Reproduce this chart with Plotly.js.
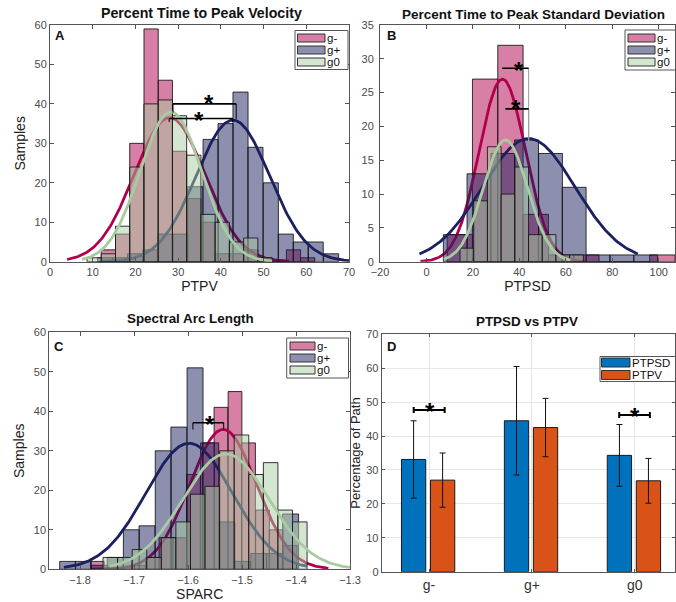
<!DOCTYPE html>
<html>
<head>
<meta charset="utf-8">
<script src="https://cdn.plot.ly/plotly-3.0.1.min.js"></script>
<style>html,body{margin:0;padding:0;background:#fff}#chart{width:676px;height:602px}</style>
</head>
<body>
<div id="chart"></div>
<script>
// ================= DATA =================
const groups = ['g-', 'g+', 'g0'];

// Panel A : PTPV histograms (bin centres / counts per group)
const ptpvCentersGm = [13.67, 17.0, 20.33, 23.67, 27.0, 30.33, 33.67, 37.0, 40.33, 43.67, 47.0, 50.33, 53.67, 57.0, 60.33];
const ptpvCountsGm  = [3, 7, 30, 59, 46, 28, 16, 10, 2, 2, 3, 1, 0, 3, 1];
const ptpvCentersGp = [12.9, 16.4, 19.9, 23.5, 27.0, 30.5, 34.0, 37.6, 41.1, 44.6, 48.1, 51.7, 55.2, 58.7, 62.2, 65.8];
const ptpvCountsGp  = [1, 1, 2, 3, 7, 7, 19, 31, 35, 43, 29, 20, 7, 5, 5, 2];
const ptpvCentersG0 = [10.33, 13.67, 17.0, 20.33, 23.67, 27.0, 30.33, 33.67, 37.0, 40.33, 43.67, 47.0, 50.33];
const ptpvCountsG0  = [1, 2, 9, 24, 40, 41, 37, 27, 12, 10, 5, 6, 1];
const ptpvBinWidth  = [3.33, 3.53, 3.33];
// normal fits (mean, sd, peak height, x-span)
const ptpvFitMean = [28.0, 42.8, 28.3];
const ptpvFitSd   = [8.3, 8.6, 7.2];
const ptpvFitPeak = [36.5, 35.9, 38.0];
const ptpvFitFrom = [4, 12, 7.5];
const ptpvFitTo   = [56, 70, 52];
// significance brackets
const ptpvSigX0 = [28.8, 27.9];
const ptpvSigX1 = [43.6, 42.8];
const ptpvSigY  = [40.0, 36.3];
const ptpvSigEndL = [37.8, 35.4];
const ptpvSigEndR = [36.2, 35.4];
const ptpvStarX = [37.3, 34.8];
const ptpvStarY = [41.6, 37.2];

// Panel B : PTPSD histograms
const ptpsdCentersGm = [14.35, 25.25, 36.15, 47.05, 57.95, 68.85, 79.75, 90.65, 101.55];
const ptpsdCountsGm  = [4, 27, 32, 7, 1, 1, 0, 0, 1];
const ptpsdCentersGp = [12.4, 22.6, 32.9, 43.1, 53.4, 63.6, 73.9, 84.1, 94.4];
const ptpsdCountsGp  = [4, 13, 16, 18, 16, 11, 1, 1, 1];
const ptpsdCentersG0 = [17.4, 23.3, 29.2, 35.1, 41.0, 46.9, 52.8, 58.7, 64.6];
const ptpsdCountsG0  = [2, 9, 17, 10, 14, 4, 4, 1, 1];
const ptpsdBinWidth  = [10.9, 10.25, 5.9];
const ptpsdFitMean = [32.7, 44.0, 34.0];
const ptpsdFitSd   = [10.0, 20.0, 9.5];
const ptpsdFitPeak = [27.0, 18.2, 18.0];
const ptpsdFitFrom = [-2.6, -3, 7.5];
const ptpsdFitTo   = [68, 91, 62];
const ptpsdSigX0 = [32.6, 34.0];
const ptpsdSigX1 = [44.0, 44.0];
const ptpsdSigY  = [28.6, 22.6];
const ptpsdSigEndL = [28.0, 22.0];
const ptpsdSigEndR = [17.6, 17.6];
const ptpsdStarX = [39.7, 38.7];
const ptpsdStarY = [29.1, 23.5];

// Panel C : SPARC histograms
const sparcCentersGm = [-1.768, -1.743, -1.717, -1.692, -1.666, -1.641, -1.615, -1.590, -1.564, -1.539, -1.513, -1.488, -1.462, -1.437, -1.411];
const sparcCountsGm  = [2, 0, 0, 1, 3, 8, 8, 24, 32, 41, 45, 32, 15, 10, 6];
const sparcCentersGp = [-1.823, -1.794, -1.764, -1.735, -1.705, -1.676, -1.646, -1.617, -1.587, -1.558, -1.528, -1.499, -1.469, -1.440, -1.410];
const sparcCountsGp  = [2, 2, 1, 3, 10, 11, 30, 36, 51, 32, 12, 2, 4, 4, 14];
const sparcCentersG0 = [-1.744, -1.717, -1.690, -1.663, -1.636, -1.609, -1.582, -1.555, -1.528, -1.501, -1.474, -1.447, -1.420, -1.393];
const sparcCountsG0  = [3, 3, 5, 3, 8, 12, 19, 21, 30, 34, 24, 27, 15, 12];
const sparcBinWidth  = [0.0255, 0.0295, 0.027];
const sparcFitMean = [-1.535, -1.598, -1.530];
const sparcFitSd   = [0.062, 0.080, 0.080];
const sparcFitPeak = [35.4, 31.9, 29.2];
const sparcFitFrom = [-1.78, -1.83, -1.745];
const sparcFitTo   = [-1.34, -1.38, -1.30];
const sparcSigX0 = [-1.591];
const sparcSigX1 = [-1.534];
const sparcSigY  = [37.1];
const sparcSigEndL = [35.4];
const sparcSigEndR = [35.4];
const sparcStarX = [-1.56];
const sparcStarY = [38.2];

// Panel D : PTPSD vs PTPV (mean +- sd)
const dCategories = ['g-', 'g+', 'g0'];
const dPtpsdMean = [33.1, 44.5, 34.3];
const dPtpsdSd   = [11.4, 16.0, 9.1];
const dPtpvMean  = [27.0, 42.5, 26.8];
const dPtpvSd    = [8.0, 8.6, 6.6];
const dSigX0 = [-0.149, 1.848];
const dSigX1 = [0.152, 2.146];
const dSigY  = [47.7, 46.2];
const dStarX = [0.01, 2.0];
const dStarY = [48.9, 47.4];

// ================= STYLE =================
const W = 676, H = 602;
const px = v => v / W, py = v => 1 - v / H;
const FONT = 'Liberation Sans, Arial, Helvetica, sans-serif';
const lineCols = ['#b0004b', '#1c205e', '#a9cba1'];
const fillCols = ['rgba(176,0,75,0.5)', 'rgba(28,32,94,0.5)', 'rgba(169,203,161,0.5)'];
const swatchCols = ['#d67fa5', '#8d8fae', '#d4e5d0'];

function gauss(mu, sd, peak, from, to) {
  const xs = [], ys = [];
  const n = 200;
  for (let i = 0; i <= n; i++) {
    const x = from + (to - from) * i / n;
    xs.push(x);
    ys.push(peak * Math.exp(-0.5 * ((x - mu) / sd) ** 2));
  }
  return {xs, ys};
}

const panels = [
  {xa: 'x', ya: ['y', 'y5', 'y6'],
   centers: [ptpvCentersGm, ptpvCentersGp, ptpvCentersG0], counts: [ptpvCountsGm, ptpvCountsGp, ptpvCountsG0], widths: ptpvBinWidth,
   fit: [ptpvFitMean, ptpvFitSd, ptpvFitPeak, ptpvFitFrom, ptpvFitTo],
   sig: [ptpvSigX0, ptpvSigX1, ptpvSigY, ptpvSigEndL, ptpvSigEndR], star: [ptpvStarX, ptpvStarY], dropCol: '#000'},
  {xa: 'x2', ya: ['y2', 'y7', 'y8'],
   centers: [ptpsdCentersGm, ptpsdCentersGp, ptpsdCentersG0], counts: [ptpsdCountsGm, ptpsdCountsGp, ptpsdCountsG0], widths: ptpsdBinWidth,
   fit: [ptpsdFitMean, ptpsdFitSd, ptpsdFitPeak, ptpsdFitFrom, ptpsdFitTo],
   sig: [ptpsdSigX0, ptpsdSigX1, ptpsdSigY, ptpsdSigEndL, ptpsdSigEndR], star: [ptpsdStarX, ptpsdStarY], dropCol: '#9a9a9a'},
  {xa: 'x3', ya: ['y3', 'y9', 'y10'],
   centers: [sparcCentersGm, sparcCentersGp, sparcCentersG0], counts: [sparcCountsGm, sparcCountsGp, sparcCountsG0], widths: sparcBinWidth,
   fit: [sparcFitMean, sparcFitSd, sparcFitPeak, sparcFitFrom, sparcFitTo],
   sig: [sparcSigX0, sparcSigX1, sparcSigY, sparcSigEndL, sparcSigEndR], star: [sparcStarX, sparcStarY], dropCol: '#000'}
];

const traces = [];
const annotations = [];
panels.forEach(p => {
  for (let g = 0; g < 3; g++) {
    traces.push({
      type: 'bar', x: p.centers[g], y: p.counts[g], width: p.widths[g],
      xaxis: p.xa, yaxis: p.ya[g], name: groups[g], showlegend: false, hoverinfo: 'skip',
      marker: {color: fillCols[g], line: {color: 'rgba(20,20,20,0.85)', width: 1}}
    });
    const c = gauss(p.fit[0][g], p.fit[1][g], p.fit[2][g], p.fit[3][g], p.fit[4][g]);
    traces.push({
      type: 'scatter', mode: 'lines', x: c.xs, y: c.ys, xaxis: p.xa, yaxis: p.ya[g],
      line: {color: lineCols[g], width: 2.8}, showlegend: false, hoverinfo: 'skip', cliponaxis: true
    });
  }
  // brackets on top layer
  const [x0s, x1s, ys, eL, eR] = p.sig;
  const hx = [], hy = [], dx = [], dy = [];
  x0s.forEach((x0, i) => {
    hx.push(x0, x1s[i], null); hy.push(ys[i], ys[i], null);
    dx.push(x0, x0, null, x1s[i], x1s[i], null);
    dy.push(ys[i], eL[i], null, ys[i], eR[i], null);
  });
  traces.push({type: 'scatter', mode: 'lines', x: dx, y: dy, xaxis: p.xa, yaxis: p.ya[2],
    line: {color: p.dropCol, width: 1}, showlegend: false, hoverinfo: 'skip'});
  traces.push({type: 'scatter', mode: 'lines', x: hx, y: hy, xaxis: p.xa, yaxis: p.ya[2],
    line: {color: '#000', width: 1.6}, showlegend: false, hoverinfo: 'skip'});
  p.star[0].forEach((sx, i) => {
    annotations.push({xref: p.xa, yref: p.ya[0], x: sx, y: p.star[1][i], text: '<b>*</b>', showarrow: false,
      font: {family: FONT, size: 24, color: '#000'}, xanchor: 'center', yanchor: 'middle', yshift: -6, borderpad: 0});
  });
});

// Panel D bars
const dPos = dCategories.map((_, i) => i);
traces.push({type: 'bar', x: dPos, y: dPtpsdMean, width: 0.236, offset: -0.268, xaxis: 'x4', yaxis: 'y4',
  marker: {color: '#0072BD', line: {color: '#1a1a1a', width: 1}},
  error_y: {type: 'data', array: dPtpsdSd, visible: true, color: '#111', thickness: 1, width: 3},
  showlegend: false, hoverinfo: 'skip'});
traces.push({type: 'bar', x: dPos, y: dPtpvMean, width: 0.236, offset: 0.014, xaxis: 'x4', yaxis: 'y4',
  marker: {color: '#D95319', line: {color: '#1a1a1a', width: 1}},
  error_y: {type: 'data', array: dPtpvSd, visible: true, color: '#111', thickness: 1, width: 3},
  showlegend: false, hoverinfo: 'skip'});
{
  const bx = [], by = [];
  dSigX0.forEach((x0, i) => {
    const x1 = dSigX1[i], y = dSigY[i];
    bx.push(x0, x0, null, x0, x1, null, x1, x1, null);
    by.push(y - 0.9, y + 0.9, null, y, y, null, y - 0.9, y + 0.9, null);
  });
  traces.push({type: 'scatter', mode: 'lines', x: bx, y: by, xaxis: 'x4', yaxis: 'y4',
    line: {color: '#000', width: 2}, showlegend: false, hoverinfo: 'skip'});
  dStarX.forEach((sx, i) => {
    annotations.push({xref: 'x4', yref: 'y4', x: sx, y: dStarY[i], text: '<b>*</b>', showarrow: false,
      font: {family: FONT, size: 24, color: '#000'}, xanchor: 'center', yanchor: 'middle', yshift: -6, borderpad: 0});
  });
}

// ================= AXES =================
const AX = {showline: true, linecolor: '#555', linewidth: 1, mirror: 'ticks', ticks: 'inside', ticklen: 4,
  tickcolor: '#555', tickfont: {family: FONT, size: 11, color: '#4a4a4a'}, showgrid: false, zeroline: false, fixedrange: true};
const TT = (t, s) => ({text: t, font: {family: FONT, size: s || 14, color: '#222'}});
const yTopDom = [py(261.7), py(25)];
const yBotDomC = [py(569.3), py(332.3)];
const yBotDomD = [py(571.7), py(334.3)];
const HID = r => ({visible: false, range: r, fixedrange: true, showgrid: false, zeroline: false});

const layout = {
  width: W, height: H, margin: {l: 0, r: 0, t: 0, b: 0},
  paper_bgcolor: '#fff', plot_bgcolor: 'rgba(0,0,0,0)', showlegend: false, barmode: 'overlay',
  font: {family: FONT},
  xaxis: Object.assign({}, AX, {domain: [px(50), px(349)], range: [0, 70], tickvals: [0, 10, 20, 30, 40, 50, 60, 70], anchor: 'y', title: Object.assign(TT('PTPV'), {standoff: 3})}),
  yaxis: Object.assign({}, AX, {domain: yTopDom, range: [0, 60], tickvals: [0, 10, 20, 30, 40, 50, 60], anchor: 'x', title: Object.assign(TT('Samples'), {standoff: 5})}),
  yaxis5: Object.assign(HID([0, 60]), {overlaying: 'y', anchor: 'x'}),
  yaxis6: Object.assign(HID([0, 60]), {overlaying: 'y', anchor: 'x'}),
  xaxis2: Object.assign({}, AX, {domain: [px(380), px(675)], range: [-20, 107], tickvals: [-20, 0, 20, 40, 60, 80, 100], anchor: 'y2', title: Object.assign(TT('PTPSD'), {standoff: 3})}),
  yaxis2: Object.assign({}, AX, {domain: yTopDom, range: [0, 35], tickvals: [0, 5, 10, 15, 20, 25, 30, 35], anchor: 'x2', ticklabelstandoff: 3}),
  yaxis7: Object.assign(HID([0, 35]), {overlaying: 'y2', anchor: 'x2'}),
  yaxis8: Object.assign(HID([0, 35]), {overlaying: 'y2', anchor: 'x2'}),
  xaxis3: Object.assign({}, AX, {domain: [px(49.3), px(350)], range: [-1.857, -1.3], tickvals: [-1.8, -1.7, -1.6, -1.5, -1.4, -1.3], anchor: 'y3', title: Object.assign(TT('SPARC'), {standoff: 4})}),
  yaxis3: Object.assign({}, AX, {domain: yBotDomC, range: [0, 60], tickvals: [0, 10, 20, 30, 40, 50, 60], anchor: 'x3', title: Object.assign(TT('Samples'), {standoff: 5})}),
  yaxis9: Object.assign(HID([0, 60]), {overlaying: 'y3', anchor: 'x3'}),
  yaxis10: Object.assign(HID([0, 60]), {overlaying: 'y3', anchor: 'x3'}),
  xaxis4: Object.assign({}, AX, {domain: [px(381.7), px(675)], range: [-0.46, 2.39], tickvals: dPos, ticktext: dCategories, anchor: 'y4',
    tickfont: {family: FONT, size: 14, color: '#333'}, showgrid: true, gridcolor: '#e6e6e6', ticklen: 3}),
  yaxis4: Object.assign({}, AX, {domain: yBotDomD, range: [0, 70], tickvals: [0, 10, 20, 30, 40, 50, 60, 70], anchor: 'x4',
    showgrid: true, gridcolor: '#e6e6e6', ticklen: 3, title: Object.assign(TT('Percentage of Path', 13), {standoff: 2})}),
  shapes: [],
  annotations: annotations
};

// titles & panel letters
[['Percent Time to Peak Velocity', 201, 13, 14.2], ['Percent Time to Peak Standard Deviation', 533, 14, 13.5],
 ['Spectral Arc Length', 190, 318, 13.4], ['PTPSD vs PTPV', 526.7, 321.7, 13.4]].forEach(t => {
  annotations.push({xref: 'paper', yref: 'paper', x: px(t[1]), y: py(t[2]), text: '<b>' + t[0] + '</b>', showarrow: false,
    font: {family: FONT, size: t[3], color: '#111'}, xanchor: 'center', yanchor: 'middle'});
});
[['A', 60, 36], ['B', 391.7, 36], ['C', 58.5, 346.7], ['D', 391.7, 346.7]].forEach(t => {
  annotations.push({xref: 'paper', yref: 'paper', x: px(t[1]), y: py(t[2]), text: '<b>' + t[0] + '</b>', showarrow: false,
    font: {family: FONT, size: 13, color: '#111'}, xanchor: 'center', yanchor: 'middle'});
});

// legends (boxes, swatches, labels)
function legend(box, swX0, swX1, textX, rows, labels, cols, fs, swH) {
  layout.shapes.push({type: 'rect', xref: 'paper', yref: 'paper', x0: px(box[0]), x1: px(box[2]), y0: py(box[3]), y1: py(box[1]),
    fillcolor: '#fff', line: {color: '#555', width: 1}, layer: 'above'});
  rows.forEach((r, i) => {
    layout.shapes.push({type: 'rect', xref: 'paper', yref: 'paper', x0: px(swX0), x1: px(swX1), y0: py(r + swH / 2), y1: py(r - swH / 2),
      fillcolor: cols[i], line: {color: '#333', width: 1}, layer: 'above'});
    annotations.push({xref: 'paper', yref: 'paper', x: px(textX), y: py(r), text: labels[i], showarrow: false,
      font: {family: FONT, size: fs, color: '#111'}, xanchor: 'left', yanchor: 'middle', borderpad: 0, yshift: 0});
  });
}
legend([295, 30.5, 348, 69.5], 297.5, 325, 325.5, [38, 50, 62], groups, swatchCols, 11.5, 8);
legend([625, 30, 675.5, 70], 628, 655, 655.5, [38, 50, 62], groups, swatchCols, 11.5, 8);
legend([286.7, 338, 348.5, 378], 290, 315, 315.5, [346, 358, 370], groups, swatchCols, 11.5, 8);
legend([600, 356.5, 675.5, 381.5], 601.5, 630, 630.5, [362.5, 375], ['PTPSD', 'PTPV'], ['#0072BD', '#D95319'], 11.5, 9);

Plotly.newPlot('chart', traces, layout, {staticPlot: true, displayModeBar: false});
</script>
</body>
</html>
